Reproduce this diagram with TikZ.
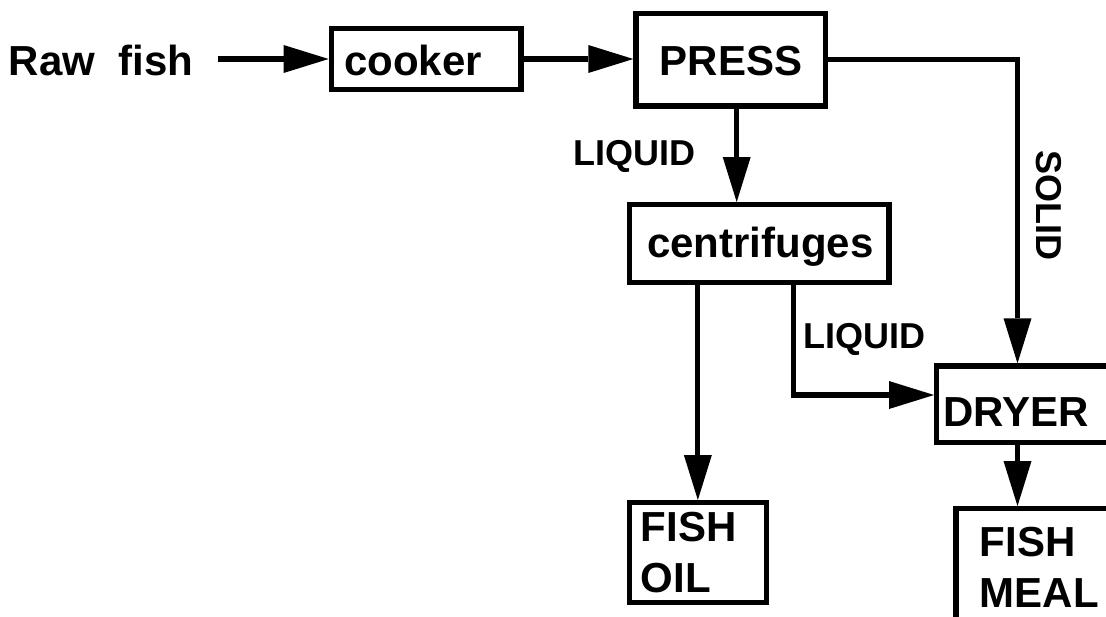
\documentclass[tikz,border=0pt]{standalone}
\usepackage{fontspec}
\setmainfont{Liberation Sans}
\usetikzlibrary{arrows.meta}
\tikzset{
  box/.style={draw, line width=5.2pt, rectangle, inner sep=0pt},
  txt/.style={inner sep=0pt, font=\fontsize{42}{51.7}\selectfont\bfseries, anchor=base west, align=left},
  lbl/.style={inner sep=0pt, font=\fontsize{36}{43}\selectfont\bfseries},
  flow/.style={line width=5.2pt, -{Triangle[length=45pt,width=28pt,line width=0pt]}},
}
\begin{document}
\begin{tikzpicture}[x=1pt,y=-1pt]
\useasboundingbox (0,0) rectangle (1106,616);
\clip (0,0) rectangle (1106,616);
% boxes
\node[box, minimum width=189.8pt, minimum height=60.8pt] (cooker) at (426.1,59) {};
\node[box, minimum width=189.2pt, minimum height=92.8pt] (press) at (730.5,59.5) {};
\node[box, minimum width=259.3pt, minimum height=77.8pt] (cent) at (759.25,243.5) {};
\node[box, minimum width=137.1pt, minimum height=100.1pt] (oil) at (697.85,552.65) {};
\node[box, minimum width=185.8pt, minimum height=76.8pt] (dryer) at (1029.5,404.3) {};
\node[box, minimum width=171.5pt, minimum height=138.8pt] (meal) at (1041.65,578) {};
% texts
\node[txt] (raw) at (8.7,75) {Raw\ \ fish};
\node[txt] (cookert) at (344,75) {cooker};
\node[txt] (presst) at (659.5,75) {PRESS};
\node[txt] (centt) at (647,257) {centrifuges};
\node[txt] (dryert) at (943.3,426.7) {DRYER};
\node[txt] (oilt) at (640.5,592.7) {FISH\\OIL};
\node[txt] (mealt) at (979.5,607.7) {FISH\\MEAL};
\node[lbl, anchor=base west] (liq1) at (573,165) {LIQUID};
\node[lbl, anchor=base west] (liq2) at (802.8,348.3) {LIQUID};
\node[lbl, rotate=-90] (solid) at (1049,205) {SOLID};
% helper coordinates
\coordinate (a0) at (217.5,59);
\coordinate (pl) at (736.7,0);
\coordinate (scorner) at (1017.5,59.5);
\coordinate (bend) at (793.3,395);
% connectors
\draw[flow] (a0) -- (cooker.west);
\draw[flow] (cooker.east) -- (cooker.east -| press.west);
\draw[flow] (press.south -| pl) -- (cent.north -| pl);
\draw[flow] (press.east) -- (scorner) -- (scorner |- dryer.north);
\draw[flow] (cent.south -| oil.north) -- (oil.north);
\draw[flow] (cent.south -| bend) -- (bend) -- (bend -| dryer.west);
\draw[flow] (scorner |- dryer.south) -- (scorner |- meal.north);
\end{tikzpicture}
\end{document}
